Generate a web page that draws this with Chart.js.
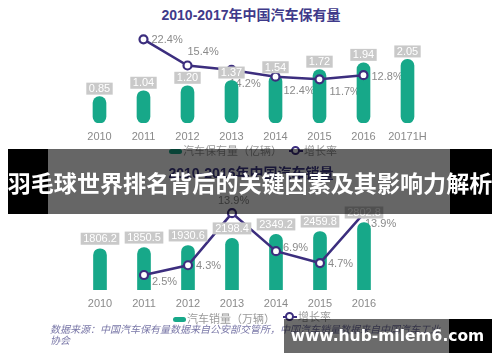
<!DOCTYPE html>
<html><head><meta charset="utf-8">
<script src="https://cdn.jsdelivr.net/npm/chart.js@4/dist/chart.umd.min.js"></script>
<style>
html,body{margin:0;padding:0;background:#fff;width:500px;height:362px;overflow:hidden;position:relative;font-family:"Liberation Sans","Noto Sans CJK SC",sans-serif;}
canvas{position:absolute;left:0;}
#c1{top:0}
#c2{top:195px}
.abs{position:absolute;white-space:nowrap;}
.ctitle{color:#3f3a8a;font-weight:bold;font-size:14px;left:0;width:502px;text-align:center;line-height:18px;}
.leg{font-size:11px;color:#9a9a9a;line-height:12px;}
.pill{position:absolute;width:13px;height:5px;border-radius:3px;background:#17a889;}
.lm{position:absolute;width:14px;height:2px;background:#3c2e7e;}
.lmc{position:absolute;width:5px;height:5px;border:2px solid #3c2e7e;border-radius:50%;background:#fff;}
.banner{position:absolute;left:8px;top:149px;width:484px;height:65px;background:rgba(0,0,0,0.6);}
.blk{position:absolute;background:#000;}
.btxt{position:absolute;left:0;top:149px;width:500px;height:65px;line-height:66px;text-align:center;color:#fff;font-weight:bold;font-size:24px;font-family:"Noto Sans CJK SC",sans-serif;white-space:nowrap;overflow:visible;}
.wm{position:absolute;left:284px;top:319px;width:208px;height:34px;background:rgba(0,0,0,0.58);}
.wtxt{position:absolute;left:284px;top:319px;width:207px;height:34px;line-height:35px;text-align:center;color:#fff;font-weight:bold;font-size:15.5px;font-family:"DejaVu Sans",sans-serif;white-space:nowrap;}
.src{position:absolute;left:50px;top:324px;font-size:10px;line-height:11px;color:#7a78a8;font-style:italic;white-space:nowrap;}
</style>
</head>
<body>
<div class="abs ctitle" style="top:6px;">2010-2017年中国汽车保有量</div>
<canvas id="c1" width="500" height="150"></canvas>

<!-- legend top -->
<div class="pill" style="left:169px;top:149px;"></div>
<div class="abs leg" style="left:183px;top:145px;">汽车保有量（亿辆）</div>
<div class="lm" style="left:289px;top:150px;"></div>
<div class="lmc" style="left:291px;top:146px;"></div>
<div class="abs leg" style="left:304px;top:145px;">增长率</div>

<div class="abs ctitle" style="top:164px;">2010-2016年中国汽车销量</div>
<canvas id="c2" width="500" height="120"></canvas>

<!-- legend bottom -->
<div class="pill" style="left:173px;top:317px;"></div>
<div class="abs leg" style="left:187px;top:313px;">汽车销量（万辆）</div>
<div class="lm" style="left:283px;top:316px;"></div>
<div class="lmc" style="left:285px;top:312px;"></div>
<div class="abs leg" style="left:298px;top:311px;">增长率</div>

<div class="src">数据来源：中国汽车保有量数据来自公安部交管所，中国汽车销量数据来自中国汽车工业<br>协会</div>

<!-- banner overlay -->
<div class="banner"></div>
<div class="blk" style="left:8px;top:149px;width:40px;height:65px;"></div>
<div class="blk" style="left:450px;top:149px;width:42px;height:65px;"></div>
<div class="btxt"><span id="bt">羽毛球世界排名背后的关键因素及其影响力解析</span></div>

<!-- watermark -->
<div class="wm"></div>
<div class="blk" style="left:449px;top:319px;width:43px;height:34px;"></div>
<div class="wtxt">www.hub-milem6.com</div>

<script>
// ---- data ----
const stockYears = ['2010','2011','2012','2013','2014','2015','2016','20171H'];
const stockValues = [0.85, 1.04, 1.20, 1.37, 1.54, 1.72, 1.94, 2.05];
const stockGrowth = [null, 22.4, 15.4, 14.2, 12.4, 11.7, 12.8, null];

const salesYears = ['2010','2011','2012','2013','2014','2015','2016'];
const salesValues = [1806.2, 1850.5, 1930.6, 2198.4, 2349.2, 2459.8, 2802.8];
const salesGrowth = [null, 2.5, 4.3, 13.9, 6.9, 4.7, 13.9];

// ---- fit banner text to its width ----
(function(){
  const s = document.getElementById('bt');
  const w = s.getBoundingClientRect().width;
  if (w > 0) s.parentNode.style.fontSize = (24 * 485 / w) + 'px';
})();

// ---- styling ----
const GREEN = '#17a889';
const PURPLE = '#3c2e7e';
const FONT = '"Liberation Sans", "Noto Sans CJK SC", Arial, sans-serif';
Chart.defaults.font.family = FONT;

const valueBoxes = {
  id: 'valueBoxes',
  afterDatasetsDraw(chart, args, opts) {
    const ctx = chart.ctx;
    const meta = chart.getDatasetMeta(0);
    const data = chart.data.datasets[0].data;
    ctx.save();
    ctx.font = '11px ' + FONT;
    ctx.textAlign = 'center';
    ctx.textBaseline = 'middle';
    meta.data.forEach((el, i) => {
      const txt = opts.fmt(data[i]);
      const w = ctx.measureText(txt).width + 5;
      const h = 12;
      const cy = el.y - opts.gap - h / 2;
      ctx.fillStyle = '#c9c9c9';
      ctx.fillRect(el.x - w / 2, cy - h / 2, w, h);
      ctx.fillStyle = '#ffffff';
      ctx.fillText(txt, el.x, cy + 0.5);
    });
    ctx.restore();
  }
};

const lineLabels = {
  id: 'lineLabels',
  beforeDatasetsDraw(chart, args, opts) {
    const ctx = chart.ctx;
    const meta = chart.getDatasetMeta(1);
    const data = chart.data.datasets[1].data;
    ctx.save();
    ctx.font = '11px ' + FONT;
    ctx.textAlign = 'left';
    ctx.textBaseline = 'middle';
    ctx.fillStyle = '#8a8a8a';
    meta.data.forEach((el, i) => {
      if (data[i] == null) return;
      const o = opts.offsets[i] || [8, 0];
      ctx.fillText(data[i].toFixed(1) + '%', el.x + o[0], el.y + o[1]);
    });
    ctx.restore();
  }
};

function makeChart(id, labels, bars, growth, pad, barRange, lineRange, fmt, gap, offsets) {
  return new Chart(document.getElementById(id), {
    data: {
      labels: labels,
      datasets: [
        {
          type: 'bar', data: bars, backgroundColor: GREEN, barThickness: 13,
          borderRadius: 7, borderSkipped: false, yAxisID: 'y', order: 2
        },
        {
          type: 'line', data: growth, borderColor: PURPLE, borderWidth: 2.5,
          pointRadius: 4, pointBorderWidth: 2.2, pointBackgroundColor: '#fff',
          pointBorderColor: PURPLE, tension: 0, yAxisID: 'y2', order: 1, spanGaps: false
        }
      ]
    },
    options: {
      responsive: false, animation: false,
      layout: { padding: pad },
      plugins: {
        legend: { display: false }, tooltip: { enabled: false },
        valueBoxes: { fmt: fmt, gap: gap },
        lineLabels: { offsets: offsets }
      },
      scales: {
        x: {
          grid: { display: false, drawTicks: false }, border: { display: false },
          ticks: { color: '#8a8a8a', font: { size: 11 }, padding: 7, autoSkip: false, maxRotation: 0 },
          afterFit(s) { s.height = 24; }
        },
        y: { display: false, min: barRange[0], max: barRange[1] },
        y2: { display: false, min: lineRange[0], max: lineRange[1] }
      }
    },
    plugins: [valueBoxes, lineLabels]
  });
}

makeChart('c1', stockYears, stockValues, stockGrowth,
  { left: 77.5, right: 70.5, top: 30, bottom: 3 },
  [0, 3.0], [0, 24.9],
  v => v.toFixed(2), 2,
  [null, [8, 1], [0, -14], [-2, 14], [8, 14], [10, 13], [8, 2], null]);

makeChart('c2', salesYears, salesValues, salesGrowth,
  { left: 78, right: 114, top: 5, bottom: 1 },
  [240, 3611], [-0.26, 16.1],
  v => v.toFixed(1), 4,
  [null, [8, 7], [8, 1], [-14, -12], [7, -3], [8, 1], [1, 11]]);
</script>
</body></html>
